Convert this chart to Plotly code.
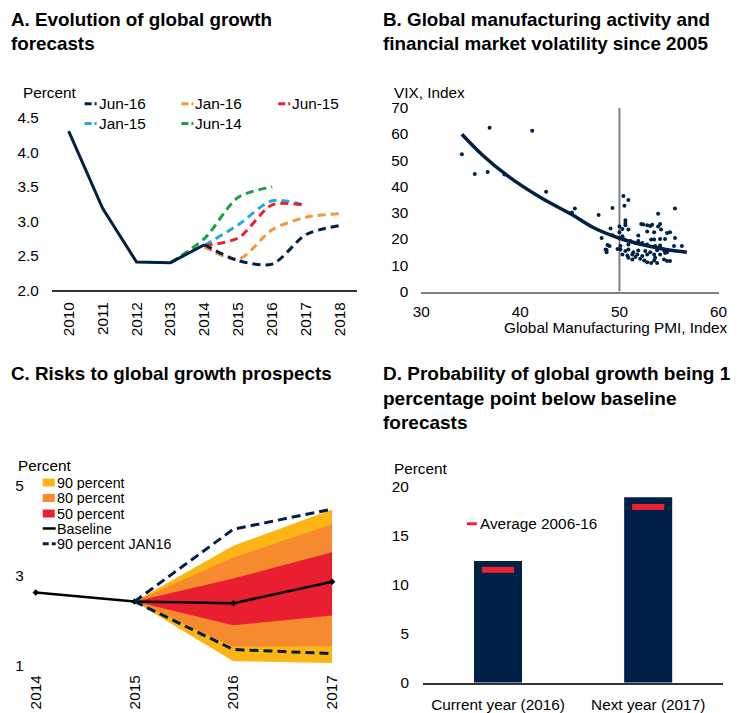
import plotly.graph_objects as go

W, H = 747, 713
# The photographed page comes out slightly shrunk around its centre; positions below are
# reference-picture pixels, mapped back through this small correction.
S, OX, OY = 0.978, 8.2, 8.0
def px(x): return ((x - OX) / S) / W
def py(y): return 1 - ((y - OY) / S) / H
def fs(size): return size / S

FONT = "Liberation Sans, Arial, Helvetica, sans-serif"
NAVY = "#002147"
ORANGE_A = "#F7963A"
RED_A = "#E8232F"
CYAN_A = "#22A9E1"
GREEN_A = "#14A14A"
YELLOW_C = "#FDB515"
ORANGE_C = "#F58A2E"
RED_C = "#E91E31"
GRAY = "#808080"

# ---------------- Panel A data ----------------
years_a = [2010, 2011, 2012, 2013, 2014, 2015, 2016, 2017, 2018]
actual_years = [2010, 2011, 2012, 2013, 2014]
actual = [4.31, 3.19, 2.41, 2.40, 2.66]
jun16_years = [2014, 2015, 2016, 2017, 2018]
jun16 = [2.66, 2.43, 2.38, 2.81, 2.94]
jan16_years = [2014, 2015, 2016, 2017, 2018]
jan16 = [2.63, 2.45, 2.88, 3.06, 3.11]
jun15_years = [2014, 2015, 2016, 2017]
jun15 = [2.65, 2.76, 3.24, 3.23]
jan15_years = [2014, 2015, 2016, 2017]
jan15 = [2.65, 2.95, 3.30, 3.23]
jun14_years = [2013, 2014, 2015, 2016]
jun14 = [2.40, 2.75, 3.35, 3.50]

# ---------------- Panel B data ----------------
pmi = [34.1, 36.9, 35.4, 36.7, 41.2, 38.4, 42.6, 45.2, 45.5, 47.9, 48.2, 48.7, 48.8, 49.3,
       50.4, 50.9, 50.5, 55.6, 53.9, 50.6, 50.6, 50.6, 52.2, 52.4, 52.8, 53.1, 53.3, 54.1, 53.9,
       49.1, 50.0, 50.3, 50.9, 50.0, 49.3, 50.3, 50.5, 51.9, 52.8, 53.5, 54.2, 54.8, 55.1,
       53.2, 53.5, 54.1, 54.6, 55.6, 51.1, 51.6, 51.9, 52.3, 50.9, 52.8, 53.6, 54.1, 55.5, 56.3,
       50.1, 50.1, 49.0, 48.6, 48.7, 49.8, 50.6, 50.9, 51.4, 51.9, 52.6, 53.1, 53.8, 54.5, 54.8,
       50.3, 50.8, 51.3, 51.8, 52.3, 52.8, 53.5, 54.1, 54.6, 50.9, 51.6, 52.1, 52.5, 52.8, 53.2,
       53.5, 53.8, 54.5, 54.8, 55.1, 53.6, 51.3]
vix = [52.3, 62.4, 44.8, 45.5, 61.2, 44.6, 38.0, 30.1, 31.6, 29.1, 20.4, 15.8, 17.7, 31.8,
       36.4, 34.9, 32.7, 31.6, 29.6, 27.1, 26.1, 25.2, 25.7, 25.5, 25.2, 25.0, 25.4, 25.7, 24.8,
       24.0, 24.8, 23.8, 23.6, 22.6, 21.4, 21.1, 19.8, 21.3, 22.9, 22.6, 23.6, 22.3, 22.6,
       19.8, 19.8, 20.0, 20.0, 20.4, 19.2, 18.5, 19.2, 18.5, 17.9, 17.9, 17.3, 17.5, 17.3, 17.3,
       17.3, 16.0, 17.3, 16.0, 15.0, 16.2, 15.4, 16.0, 15.0, 15.6, 15.4, 15.0, 15.7, 15.7, 15.0,
       14.1, 13.7, 14.1, 14.1, 13.5, 14.1, 14.1, 14.1, 14.7, 12.9, 13.2, 12.5, 11.8, 11.2, 10.9,
       11.8, 10.9, 12.2, 11.6, 11.6, 12.9, 12.2]
trend_pmi = [34.1, 36.2, 38.6, 42.0, 45.2, 47.3, 50.0, 52.7, 55.0, 56.8]
trend_vix = [59.9, 51.9, 44.4, 35.9, 29.3, 24.5, 20.3, 17.5, 15.8, 15.0]
PMI_THRESHOLD = 50

# ---------------- Panel C data ----------------
years_c = [2014, 2015, 2016, 2017]
baseline = [2.62, 2.42, 2.38, 2.86]
band_years = [2015, 2016, 2017]
p90_upper = [2.42, 3.66, 4.47]
p80_upper = [2.42, 3.40, 4.14]
p50_upper = [2.42, 2.93, 3.52]
p50_lower = [2.42, 1.89, 2.11]
p80_lower = [2.42, 1.41, 1.43]
p90_lower = [2.42, 1.09, 1.05]
jan16_upper = [2.42, 4.03, 4.48]
jan16_lower = [2.42, 1.35, 1.26]

# ---------------- Panel D data ----------------
categories_d = ["Current year (2016)", "Next year (2017)"]
probability = [12.4, 18.9]
average_0616 = [11.5, 17.9]

fig = go.Figure()

# Panel A
def fc(xs, ys, color):
    fig.add_trace(go.Scatter(x=xs, y=ys, mode="lines", xaxis="x", yaxis="y",
                             line=dict(color=color, width=3, dash="8px,5px", shape="spline", smoothing=0.8),
                             showlegend=False, hoverinfo="skip"))
fc(jun14_years, jun14, GREEN_A)
fc(jan15_years, jan15, CYAN_A)
fc(jun15_years, jun15, RED_A)
fc(jan16_years, jan16, ORANGE_A)
fc(jun16_years, jun16, NAVY)
fig.add_trace(go.Scatter(x=actual_years, y=actual, mode="lines", xaxis="x", yaxis="y",
                         line=dict(color=NAVY, width=3), showlegend=False))

# Panel B
fig.add_trace(go.Scatter(x=[PMI_THRESHOLD, PMI_THRESHOLD], y=[0, 70], mode="lines", xaxis="x2", yaxis="y2",
                         line=dict(color=GRAY, width=2), showlegend=False, hoverinfo="skip"))
fig.add_trace(go.Scatter(x=pmi, y=vix, mode="markers", xaxis="x2", yaxis="y2",
                         marker=dict(color=NAVY, size=4), showlegend=False))
fig.add_trace(go.Scatter(x=trend_pmi, y=trend_vix, mode="lines", xaxis="x2", yaxis="y2",
                         line=dict(color=NAVY, width=3.5, shape="spline"), showlegend=False))

# Panel C
def band(upper, lower, color):
    fig.add_trace(go.Scatter(x=band_years + band_years[::-1], y=upper + lower[::-1],
                             mode="lines", fill="toself", fillcolor=color, line=dict(width=0, color=color),
                             xaxis="x3", yaxis="y3", showlegend=False, hoverinfo="skip"))
band(p90_upper, p90_lower, YELLOW_C)
band(p80_upper, p80_lower, ORANGE_C)
band(p50_upper, p50_lower, RED_C)
fig.add_trace(go.Scatter(x=years_c, y=baseline, mode="lines+markers", xaxis="x3", yaxis="y3",
                         line=dict(color="black", width=2.5), marker=dict(symbol="diamond", size=5, color="black"),
                         cliponaxis=False, showlegend=False))
for arr in (jan16_upper, jan16_lower):
    fig.add_trace(go.Scatter(x=band_years, y=arr, mode="lines", xaxis="x3", yaxis="y3",
                             line=dict(color=NAVY, width=3, dash="9px,5px"), cliponaxis=False,
                             showlegend=False))

# Panel D
fig.add_trace(go.Bar(x=categories_d, y=probability, xaxis="x4", yaxis="y4", width=0.32,
                     marker=dict(color=NAVY, line=dict(width=0)), showlegend=False))
fig.add_trace(go.Scatter(x=categories_d, y=average_0616, mode="markers", xaxis="x4", yaxis="y4",
                         marker=dict(symbol="line-ew", size=23, line=dict(color=RED_A, width=6)),
                         showlegend=False))

tickfont = dict(family=FONT, size=fs(15), color="black")
common = dict(showgrid=False, zeroline=False, ticks="", tickfont=tickfont, fixedrange=True)

fig.update_layout(
    width=W, height=H, margin=dict(l=0, r=0, t=0, b=0),
    paper_bgcolor="white", plot_bgcolor="white", showlegend=False,
    font=dict(family=FONT, size=fs(15), color="black"),
    xaxis=dict(domain=[px(51), px(357)], range=[2009.5, 2018.5], tickvals=years_a, tickangle=-90,
               showline=True, linecolor="#333333", linewidth=1.5, anchor="y", ticklabelstandoff=4, **common),
    yaxis=dict(domain=[py(291), py(117.7)], range=[2.0, 4.5], tickvals=[2.0, 2.5, 3.0, 3.5, 4.0, 4.5],
               tickformat=".1f", showline=False, anchor="x", ticklabelstandoff=12, **common),
    xaxis2=dict(domain=[px(421.3), px(719.3)], range=[30, 60], tickvals=[30, 40, 50, 60],
                showline=True, linecolor=GRAY, linewidth=2, anchor="y2", ticklabelstandoff=5, **common),
    yaxis2=dict(domain=[py(292.3), py(107.3)], range=[0, 70], tickvals=list(range(0, 71, 10)),
                showline=False, anchor="x2", ticklabelstandoff=12, **common),
    xaxis3=dict(domain=[px(35), px(332)], range=[2014, 2017], tickvals=years_c, tickangle=-90,
                showline=False, anchor="y3", ticklabelstandoff=6, **common),
    yaxis3=dict(domain=[py(668.3), py(487.7)], range=[1, 5], tickvals=[1, 3, 5],
                showline=False, anchor="x3", ticklabelstandoff=11, **common),
    yaxis5=dict(range=[1, 5], tickvals=[1, 3, 5], overlaying="y3", side="right", anchor="x3",
                showline=False, ticklabelstandoff=10, **common),
    xaxis4=dict(domain=[px(423), px(724)], type="category", range=[-0.5, 1.5],
                showline=True, linecolor="#333333", linewidth=1.5, anchor="y4", ticklabelstandoff=7, **common),
    yaxis4=dict(domain=[py(686), py(488.3)], range=[0, 20], tickvals=[0, 5, 10, 15, 20],
                showline=False, anchor="x4", ticklabelstandoff=13, **common),
)

annotations = []
shapes = []
def text(x, y, t, size=15, xanchor="left", yanchor="middle", bold=False, height=None):
    a = dict(x=px(x), y=py(y), xref="paper", yref="paper", text=t, showarrow=False,
             xanchor=xanchor, yanchor=yanchor, align="left", borderpad=0,
             font=dict(family=FONT, size=fs(size), color="black",
                       weight="bold" if bold else "normal"))
    if height:
        a["height"] = height / S
        a["valign"] = "middle"
    annotations.append(a)

# Titles
text(9, 7, "A. Evolution of global growth<br>forecasts", size=18.4, yanchor="top", bold=True)
text(382, 7, "B. Global manufacturing activity and<br>financial market volatility since 2005", size=18.4, yanchor="top", bold=True)
text(9, 363, "C. Risks to global growth prospects", size=18.4, yanchor="top", bold=True)
text(382, 363, "D. Probability of global growth being 1<br>percentage point below baseline<br>forecasts", size=18.6, yanchor="top", bold=True)

# Axis unit labels
text(21, 92, "Percent")
text(393, 92, "VIX, Index")
text(730, 328, "Global Manufacturing PMI, Index", xanchor="right")
text(16, 467, "Percent")
text(393, 470.5, "Percent")

# Legend keys
def leg_line(x0, x1, y, color, dash="solid", width=3):
    shapes.append(dict(type="line", xref="paper", yref="paper", x0=px(x0), x1=px(x1), y0=py(y), y1=py(y),
                       line=dict(color=color, width=width, dash=dash)))
def leg_box(x0, x1, y0, y1, color):
    shapes.append(dict(type="rect", xref="paper", yref="paper", x0=px(x0), x1=px(x1), y0=py(y0), y1=py(y1),
                       fillcolor=color, line=dict(width=0)))

legA = [("Jun-16", NAVY, 84, 103.3), ("Jan-16", ORANGE_A, 181, 103.3), ("Jun-15", RED_A, 278, 103.3),
        ("Jan-15", CYAN_A, 84, 123.3), ("Jun-14", GREEN_A, 181, 123.3)]
for name, col, x0, y in legA:
    leg_line(x0, x0 + 13, y, col, dash="7px,3px,2px,3px", width=3)
    text(x0 + 13, y, name)

# Legend C
legC_size = 14
leg_box(42, 54, 480.5, 488.5, YELLOW_C); text(55, 484.3, "90 percent", size=legC_size, height=15)
leg_box(42, 54, 496, 504, ORANGE_C); text(55, 500, "80 percent", size=legC_size, height=15)
leg_box(42, 54, 511.7, 519.7, RED_C); text(55, 515.7, "50 percent", size=legC_size, height=15)
leg_line(42, 55, 530.7, "black", width=2.5); text(55, 530.7, "Baseline", size=legC_size, height=15)
leg_line(42, 55, 546, NAVY, dash="6px,3px", width=3); text(55, 546, "90 percent JAN16", size=legC_size, height=15)

# Legend D
leg_box(467, 477, 524.5, 527.5, RED_A); text(479, 526, "Average 2006-16")

fig.update_layout(annotations=annotations, shapes=shapes)
fig.write_html("out.html", config={"displayModeBar": False},
               post_script="document.body.style.margin='0';document.body.style.overflow='hidden';")
